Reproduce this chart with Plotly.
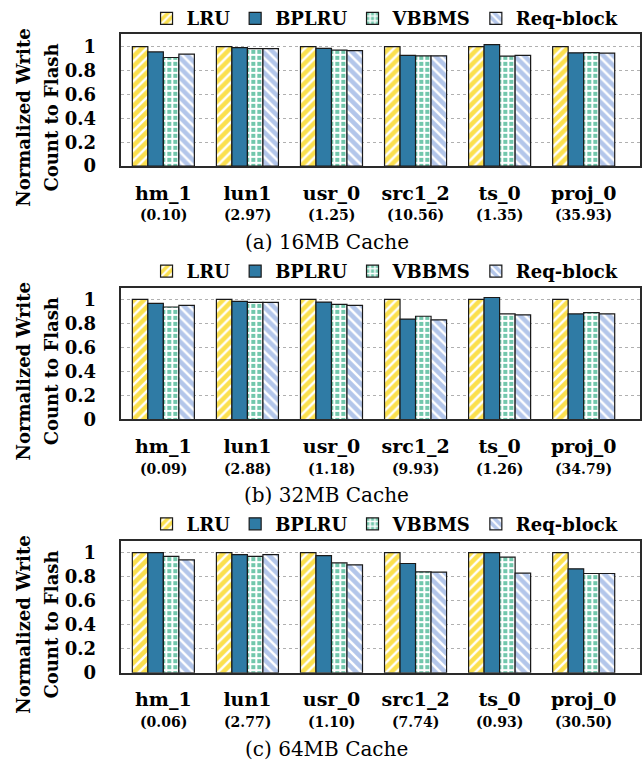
import plotly.graph_objects as go
from plotly.subplots import make_subplots

categories = ["hm_1", "lun1", "usr_0", "src1_2", "ts_0", "proj_0"]
series_names = ["LRU", "BPLRU", "VBBMS", "Req-block"]

sub_16 = ["(0.10)", "(2.97)", "(1.25)", "(10.56)", "(1.35)", "(35.93)"]
sub_32 = ["(0.09)", "(2.88)", "(1.18)", "(9.93)", "(1.26)", "(34.79)"]
sub_64 = ["(0.06)", "(2.77)", "(1.10)", "(7.74)", "(0.93)", "(30.50)"]

lru_16 = [1.0, 1.0, 1.0, 1.0, 1.0, 1.0]
bplru_16 = [0.956, 0.992, 0.986, 0.926, 1.017, 0.948]
vbbms_16 = [0.909, 0.983, 0.970, 0.923, 0.920, 0.950]
req_16 = [0.937, 0.983, 0.967, 0.923, 0.926, 0.945]

lru_32 = [1.0, 1.0, 1.0, 1.0, 1.0, 1.0]
bplru_32 = [0.967, 0.984, 0.978, 0.836, 1.016, 0.879]
vbbms_32 = [0.937, 0.975, 0.959, 0.860, 0.879, 0.890]
req_32 = [0.951, 0.975, 0.951, 0.830, 0.871, 0.879]

lru_64 = [1.0, 1.0, 1.0, 1.0, 1.0, 1.0]
bplru_64 = [1.0, 0.984, 0.975, 0.910, 1.0, 0.866]
vbbms_64 = [0.970, 0.970, 0.915, 0.841, 0.964, 0.827]
req_64 = [0.940, 0.984, 0.899, 0.838, 0.830, 0.827]

captions = ["(a) 16MB Cache", "(b) 32MB Cache", "(c) 64MB Cache"]
y_title_lines = ["Normalized Write", "Count to Flash"]
y_ticks = [0, 0.2, 0.4, 0.6, 0.8, 1]
y_ticktext = ["0", "0.2", "0.4", "0.6", "0.8", "1"]

panels = [
    (lru_16, bplru_16, vbbms_16, req_16, sub_16),
    (lru_32, bplru_32, vbbms_32, req_32, sub_32),
    (lru_64, bplru_64, vbbms_64, req_64, sub_64),
]

W, H = 642, 769
FONT = "DejaVu Serif"

styles = [
    dict(color="#FBE04E", pattern=dict(shape="/", fgcolor="white", fgopacity=1, fillmode="overlay", size=7, solidity=0.35)),
    dict(color="#2F7BA5", pattern=dict(shape="")),
    dict(color="#72C7AC", pattern=dict(shape="+", fgcolor="white", fgopacity=1, fillmode="overlay", size=6, solidity=0.55)),
    dict(color="#B3C6EA", pattern=dict(shape="\\", fgcolor="white", fgopacity=1, fillmode="overlay", size=7, solidity=0.35)),
]

# plot areas in pixels (top, bottom)
areas = [(34.3, 168.3), (291.7, 425.0), (548.3, 681.7)]
y_tops = [1.107, 1.096, 1.096]
legend_y = [19, 275, 531]
sub_y_off = 50     # sub-label centre below plot bottom
cap_y_off = 77     # caption centre below plot bottom
x_left = 121.7
title_x = [24, 52]

fig = make_subplots(rows=3, cols=1)

annotations = []
for i, (vals, area) in enumerate(zip(panels, areas)):
    row = i + 1
    lname = "legend" if i == 0 else f"legend{i+1}"
    for j, name in enumerate(series_names):
        st = styles[j]
        fig.add_trace(go.Bar(
            x=categories, y=vals[j], name=name,
            marker=dict(color=st["color"], pattern=st["pattern"],
                        line=dict(color="#1a1a1a", width=1.2)),
            legend=lname, showlegend=True,
        ), row=row, col=1)
    top, bot = area
    yd = [1 - bot / H, 1 - top / H]
    xa = "xaxis" if i == 0 else f"xaxis{i+1}"
    ya = "yaxis" if i == 0 else f"yaxis{i+1}"
    fig.layout[xa].update(domain=[x_left / W, 1.0], range=[-0.5, 5.67],
                          showline=True, linecolor="#2a2a2a", linewidth=1.5, mirror=True,
                          ticks="", tickfont=dict(family=FONT, size=19, color="black", weight="bold"),
                          ticklabelstandoff=9)
    fig.layout[ya].update(domain=yd, range=[0, y_tops[i]],
                          tickvals=y_ticks, ticktext=y_ticktext,
                          showline=True, linecolor="#2a2a2a", linewidth=1.5, mirror=True,
                          showgrid=True, gridcolor="#b0b0b0", griddash="dot", gridwidth=1,
                          zeroline=False, ticks="",
                          tickfont=dict(family=FONT, size=18, color="black", weight="bold"),
                          ticklabelstandoff=20)
    xref = "x" if i == 0 else f"x{i+1}"
    for c, s in zip(categories, vals[4]):
        annotations.append(dict(x=c, xref=xref, y=1 - (bot + sub_y_off) / H, yref="paper",
                                text=s, showarrow=False, yanchor="middle",
                                font=dict(family=FONT, size=14, color="black", weight="bold")))
    annotations.append(dict(x=328 / W, xref="paper", y=1 - (bot + cap_y_off) / H, yref="paper",
                            text=captions[i], showarrow=False, yanchor="middle",
                            font=dict(family=FONT, size=20, color="black")))
    for tx, line in zip(title_x, y_title_lines):
        annotations.append(dict(x=tx / W, xref="paper", y=1 - ((top + bot) / 2 + 18) / H, yref="paper",
                                text=line, showarrow=False,
                                textangle=-90, xanchor="center", yanchor="middle",
                                font=dict(family=FONT, size=18, color="black", weight="bold")))
    fig.layout[lname] = dict(orientation="h", x=147 / W, xanchor="left",
                             y=1 - legend_y[i] / H, yanchor="middle",
                             font=dict(family=FONT, size=18, color="black", weight="bold"),
                             bgcolor="rgba(0,0,0,0)", itemwidth=30, tracegroupgap=0)

fig.update_layout(
    width=W, height=H, margin=dict(l=0, r=0, t=0, b=0),
    plot_bgcolor="white", paper_bgcolor="white",
    barmode="group", bargap=0.262, bargroupgap=0,
    annotations=annotations,
)

fig.write_html("out.html")
